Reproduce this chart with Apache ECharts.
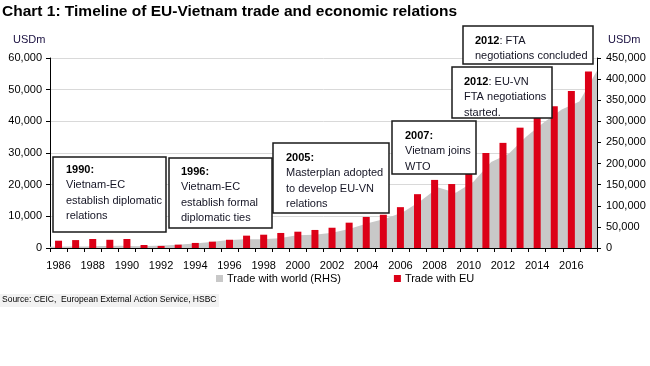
<!DOCTYPE html>
<html>
<head>
<meta charset="utf-8">
<script src="https://cdn.jsdelivr.net/npm/echarts@6/dist/echarts.min.js"></script>
<style>
html,body{margin:0;padding:0;background:#fff;}
#c{width:650px;height:366px;}
</style>
</head>
<body>
<div id="c"></div>
<script>
// ---- data ----
var years = ['1986','1987','1988','1989','1990','1991','1992','1993','1994','1995','1996','1997','1998','1999','2000','2001','2002','2003','2004','2005','2006','2007','2008','2009','2010','2011','2012','2013','2014','2015','2016','2017'];
// Trade with EU, USDm (left axis)
var tradeEU = [2300,2500,2850,2600,2850,950,650,1050,1600,2000,2600,3900,4200,4750,5150,5700,6400,8000,9800,10500,12900,17000,21500,20200,23900,30000,33200,38000,41500,44800,49600,55700];
// Trade with world, USDm (right axis)
var tradeWorld = [2900,3300,3800,4500,5200,4400,5100,6900,9900,13600,18400,20800,20900,23300,30100,31200,36400,45400,58500,69200,84700,111300,143400,131000,157000,203700,223000,264000,298000,327800,347000,420000];
var leftTicks = {min:0, max:60000, interval:10000};
var rightTicks = {min:0, max:450000, interval:50000};
var seriesNames = ['Trade with world (RHS)','Trade with EU'];
var titleText = 'Chart 1: Timeline of EU-Vietnam trade and economic relations';
var sourceText = 'Source: CEIC,  European External Action Service, HSBC';
var notes = [
  {year:'1990:', lines:['Vietnam-EC','establish diplomatic','relations']},
  {year:'1996:', lines:['Vietnam-EC','establish formal','diplomatic ties']},
  {year:'2005:', lines:['Masterplan adopted','to develop EU-VN','relations']},
  {year:'2007:', lines:['Vietnam joins','WTO']},
  {year:'2012', rest:': EU-VN', lines:['FTA negotiations','started.']},
  {year:'2012', rest:': FTA', lines:['negotiations concluded']}
];

// ---- layout (positions only) ----
var boxes = [
  {r:[53,157,113,75], tx:66, ty:162},
  {r:[169,158,103,70], tx:181, ty:164},
  {r:[273,143,116,70], tx:286, ty:150},
  {r:[392,121,84,53], tx:405, ty:128},
  {r:[452,67,100,51], tx:464, ty:74},
  {r:[463,26,130,38], tx:475, ty:33}
];
var FONT = '"Liberation Sans", Arial, sans-serif';
function fmt(v){ return String(v).replace(/\B(?=(\d{3})+(?!\d))/g, ','); }

var graphics = [];
notes.forEach(function(n, i){
  var b = boxes[i];
  graphics.push({type:'rect', z:100, shape:{x:b.r[0], y:b.r[1], width:b.r[2], height:b.r[3]},
    style:{fill:'#fff', stroke:'#1a1a1a', lineWidth:1.5}});
  var first = '{b|' + n.year + '}' + (n.rest ? '{n|' + n.rest + '}' : '');
  var txt = [first].concat(n.lines.map(function(l){return '{n|' + l + '}';})).join('\n');
  graphics.push({type:'text', z:101, x:b.tx, y:b.ty,
    style:{text:txt, fill:'#141414', verticalAlign:'top', align:'left',
      rich:{
        b:{fontFamily:FONT, fontWeight:'bold', fontSize:11, lineHeight:15.5, fill:'#000'},
        n:{fontFamily:FONT, fontSize:11, lineHeight:15.5, fill:'#141424'}
      }}});
});
graphics.push({type:'text', left:2, top:4, style:{text:titleText, font:'bold 15.5px ' + FONT, fill:'#000'}});
graphics.push({type:'rect', shape:{x:0, y:294, width:219, height:13}, style:{fill:'#f2f2f2'}});
graphics.push({type:'text', x:2, y:295, style:{text:sourceText, font:'8.5px ' + FONT, fill:'#000'}});
graphics.push({type:'text', x:13, y:34, style:{text:'USDm', font:'11px ' + FONT, fill:'#1a1040'}});
graphics.push({type:'text', x:608, y:34, style:{text:'USDm', font:'11px ' + FONT, fill:'#1a1040'}});

var chart = echarts.init(document.getElementById('c'), null, {renderer:'canvas'});
chart.setOption({
  animation:false,
  backgroundColor:'#fff',
  textStyle:{fontFamily:FONT},
  grid:{left:50, right:53, top:58, bottom:118, containLabel:false},
  legend:{
    data:seriesNames, left:211, top:268, itemWidth:7, itemHeight:7, itemGap:53,
    icon:'rect', textStyle:{fontSize:11, color:'#000', fontFamily:FONT, padding:[0,0,0,-1]}
  },
  xAxis:[
    {type:'category', data:years, boundaryGap:true,
      axisLine:{lineStyle:{color:'#000', width:1}},
      axisTick:{show:true, interval:0, alignWithLabel:false, length:4, inside:false, lineStyle:{color:'#000'}},
      axisLabel:{interval:1, color:'#000', fontSize:11, margin:12, fontFamily:FONT},
      splitLine:{show:false}},
    {type:'category', data:years, boundaryGap:false, show:false}
  ],
  yAxis:[
    {type:'value', min:leftTicks.min, max:leftTicks.max, interval:leftTicks.interval, position:'left',
      axisLine:{show:true, lineStyle:{color:'#000', width:1}},
      axisTick:{show:true, length:4, lineStyle:{color:'#000'}},
      axisLabel:{formatter:fmt, color:'#000', fontSize:11, margin:8, fontFamily:FONT},
      splitLine:{show:true, lineStyle:{color:'#d9d9d9', width:1}}},
    {type:'value', min:rightTicks.min, max:rightTicks.max, interval:rightTicks.interval, position:'right',
      axisLine:{show:true, lineStyle:{color:'#000', width:1}},
      axisTick:{show:true, length:4, lineStyle:{color:'#000'}},
      axisLabel:{formatter:fmt, color:'#000', fontSize:11, margin:9, fontFamily:FONT},
      splitLine:{show:false}}
  ],
  series:[
    {name:seriesNames[0], type:'line', xAxisIndex:1, yAxisIndex:1, data:tradeWorld,
      symbol:'none', lineStyle:{width:0, color:'#c8c8c8'}, areaStyle:{color:'#c8c8c8', opacity:1},
      itemStyle:{color:'#c8c8c8'}, z:1},
    {name:seriesNames[1], type:'bar', xAxisIndex:0, yAxisIndex:0, data:tradeEU,
      barWidth:7, itemStyle:{color:'#dc0017'}, z:2}
  ],
  graphic:graphics
});
</script>
</body>
</html>
